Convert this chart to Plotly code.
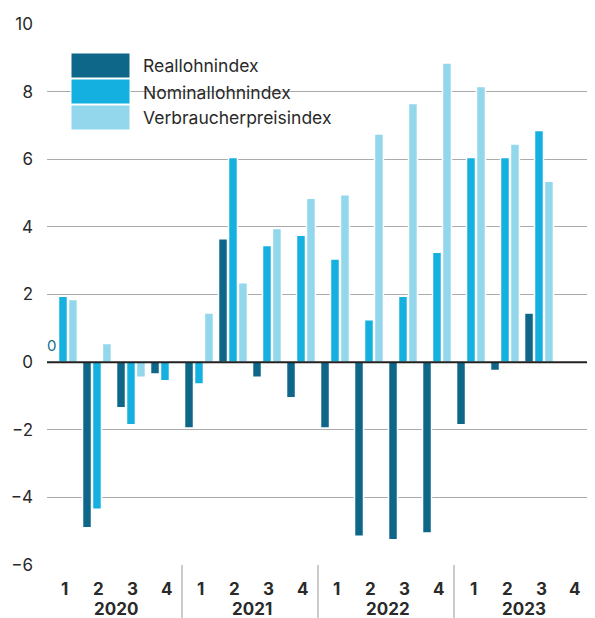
import plotly.graph_objects as go

# ---- data ----
years = ["2020", "2021", "2022", "2023"]
quarters = ["1", "2", "3", "4"]
series_names = ["Reallohnindex", "Nominallohnindex", "Verbraucherpreisindex"]
real = [0.0, -4.9, -1.35, -0.35, -1.95, 3.65, -0.45, -1.05,
        -1.95, -5.15, -5.25, -5.05, -1.85, -0.25, 1.45, None]
nominal = [1.95, -4.35, -1.85, -0.55, -0.65, 6.05, 3.45, 3.75,
           3.05, 1.25, 1.95, 3.25, 6.05, 6.05, 6.85, None]
cpi = [1.85, 0.55, -0.45, -0.05, 1.45, 2.35, 3.95, 4.85,
       4.95, 6.75, 7.65, 8.85, 8.15, 6.45, 5.35, None]
y_ticks = [10, 8, 6, 4, 2, 0, -2, -4, -6]
y_ticktext = ["10", "8", "6", "4", "2", "0", "\u22122", "\u22124", "\u22126"]

colors = ["#0e6688", "#14b0e0", "#92d7ec"]
FONT = "Inter, Liberation Sans, Arial, sans-serif"
TXT = "#2a2a2a"

# page body has an 8px default margin: figure starts at (8, 8) in the page
OFF = 8
W, H = 595 - OFF, 618 - OFF
L, R, T = 47 - OFF, 0, 24 - OFF
B = H - (565 - OFF)
pw, ph = W - L - R, H - T - B

def px_x(p):  # page pixel -> paper x
    return (p - OFF - L) / pw

def px_y(p):  # page pixel -> paper y
    return (H - B - (p - OFF)) / ph

xpos = list(range(len(real)))

fig = go.Figure()
for name, vals, col in zip(series_names, [real, nominal, cpi], colors):
    fig.add_trace(go.Bar(
        x=xpos, y=vals, name=name,
        marker=dict(color=col, line=dict(color="white", width=1.5)),
        showlegend=False,
    ))

shapes = []
annotations = []

# legend background (hides gridline) + boxes + text
shapes.append(dict(type="rect", xref="paper", yref="paper",
                   x0=px_x(63), x1=px_x(343), y0=px_y(136), y1=px_y(48),
                   fillcolor="white", line=dict(width=0), layer="below"))
box_tops = [53, 79, 105]
for name, col, top in zip(series_names, colors, box_tops):
    shapes.append(dict(type="rect", xref="paper", yref="paper",
                       x0=px_x(71), x1=px_x(130), y0=px_y(top + 25), y1=px_y(top),
                       fillcolor=col, line=dict(color="white", width=1), layer="above"))
    annotations.append(dict(xref="paper", yref="paper", x=px_x(141), y=px_y(top + 13),
                            text=name, showarrow=False, xanchor="left", yanchor="middle",
                            font=dict(family=FONT, size=17.5, color=TXT)))

# zero line above bars
shapes.append(dict(type="line", xref="paper", yref="y", x0=0, x1=1, y0=0, y1=0,
                   line=dict(color="#222222", width=2), layer="above"))

# year separators below axis
for k in range(1, len(years)):
    xs = k * 4 - 0.5
    shapes.append(dict(type="line", xref="x", yref="paper", x0=xs, x1=xs,
                       y0=0, y1=-B / ph, line=dict(color="#999999", width=1)))

# quarter & year labels
for yi, yr in enumerate(years):
    for qi, q in enumerate(quarters):
        annotations.append(dict(xref="x", yref="paper", x=yi * 4 + qi, y=px_y(589),
                                text="<b>%s</b>" % q, showarrow=False, xshift=2,
                                xanchor="center", yanchor="middle",
                                font=dict(family=FONT, size=17, color=TXT)))
    annotations.append(dict(xref="x", yref="paper", x=yi * 4 + 1.5, y=px_y(609),
                            text="<b>%s</b>" % yr, showarrow=False, xshift=2,
                            xanchor="center", yanchor="middle",
                            font=dict(family=FONT, size=17, color=TXT)))

# value label "0" for Reallohnindex 2020 Q1
annotations.append(dict(xref="x", yref="y", x=0, y=real[0], text="0", showarrow=False,
                        xshift=-11, yshift=5, xanchor="center", yanchor="bottom",
                        font=dict(family=FONT, size=15, color="#1a6e8e")))

fig.update_layout(
    width=W, height=H,
    margin=dict(l=L, r=R, t=T, b=B),
    paper_bgcolor="white", plot_bgcolor="white",
    barmode="group", bargap=0.12, bargroupgap=0.1,
    shapes=shapes, annotations=annotations,
    font=dict(family=FONT, color=TXT),
    xaxis=dict(range=[-0.47, 15.647], showticklabels=False, showgrid=False,
               zeroline=False, showline=False, fixedrange=True),
    yaxis=dict(range=[-6, 10], tickvals=y_ticks, ticktext=y_ticktext,
               showgrid=True, gridcolor="#aaaaaa", gridwidth=1,
               zeroline=False, showline=False, ticks="",
               ticklabelstandoff=13,
               tickfont=dict(family=FONT, size=17, color=TXT)),
)

fig.write_html("out.html")
